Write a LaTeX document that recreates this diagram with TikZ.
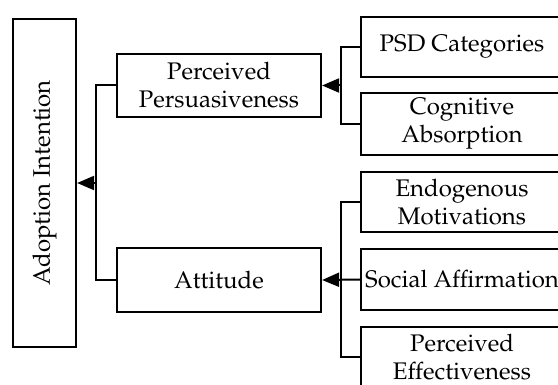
\documentclass[tikz,border=0pt]{standalone}
\usepackage{graphicx,tikz}
\usepackage[T1]{fontenc}
\usepackage{mathpazo}
\usetikzlibrary{arrows.meta}

\tikzset{
  box/.style={draw, line width=2.2pt, align=center, inner sep=0pt,
    font=\fontsize{24}{28}\selectfont},
  link/.style={line width=2pt},
}

\begin{document}
\begin{tikzpicture}[x=1pt, y=-1pt, >={Triangle[length=17pt,width=14pt]}]
    \clip (0,0) rectangle (558,385);
    % Nodes
    \node[box, minimum width=63pt, minimum height=328pt] (ai) at (44.5,183) {\rotatebox{90}{Adoption Intention}};
    \node[box, minimum width=204pt, minimum height=63pt] (pp) at (219,85.5) {Perceived\\Persuasiveness};
    \node[box, minimum width=204pt, minimum height=64pt] (at) at (219,280) {Attitude};

    \node[box, minimum width=202pt, minimum height=60pt] (psd) at (462,47) {PSD Categories};
    \node[box, minimum width=202pt, minimum height=62pt] (ca) at (462,124) {Cognitive\\Absorption};
    \node[box, minimum width=202pt, minimum height=60pt] (em) at (462,202) {Endogenous\\Motivations};
    \node[box, minimum width=202pt, minimum height=61pt] (sa) at (462,279.5) {Social Affirmation};
    \node[box, minimum width=202pt, minimum height=61pt] (pe) at (462,357.5) {Perceived\\Effectiveness};

    % Bus points
    \coordinate (b0) at (96,183);
    \coordinate (b1) at (341,85.5);
    \coordinate (b2) at (341,280);

    % Edges
    \draw[link] (pp.west) -| (b0) |- (at.west);
    \draw[link,->] (b0) -- (ai.east);

    \draw[link] (psd.west) -| (b1) |- (ca.west);
    \draw[link,->] (b1) -- (pp.east);

    \draw[link] (em.west) -| (b2) |- (pe.west);
    \draw[link,->] (sa.west) -- (at.east);
\end{tikzpicture}
\end{document}
